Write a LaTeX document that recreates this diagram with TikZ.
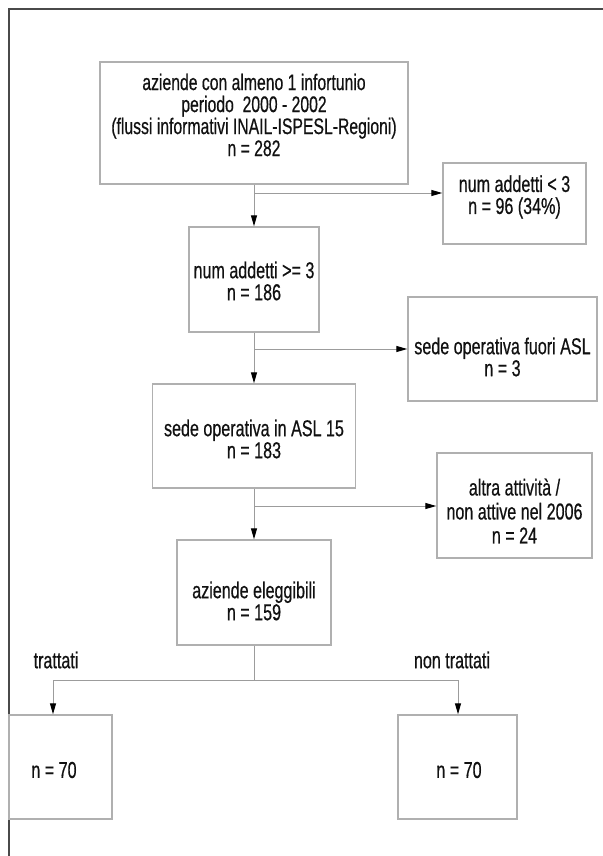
\documentclass[tikz,border=0pt]{standalone}
\usepackage{fontspec}
\setmainfont[FakeStretch=0.70,FakeBold=0.5]{Liberation Sans}
\usetikzlibrary{arrows.meta,calc}
\definecolor{framecol}{HTML}{4A4A4A}
\definecolor{boxcol}{HTML}{B0B0B0}
\definecolor{conncol}{HTML}{9C9C9C}
\definecolor{textcol}{HTML}{111111}
\begin{document}
\begin{tikzpicture}[x=1pt,y=-1pt,
  boxshape/.style={draw=boxcol,line width=1.4pt,fill=white,inner sep=0pt},
  txt/.style={align=center,inner sep=0pt,text=textcol,font=\fontsize{23}{22}\selectfont},
  tight/.style={font=\fontsize{22.5}{22}\selectfont},
  loose/.style={font=\fontsize{23}{24}\selectfont},
  conn/.style={draw=conncol,line width=1pt},
  arr/.style={-{Triangle[length=11pt,width=6pt,color=black]}},
  frameline/.style={draw=framecol,line width=2pt}]
\useasboundingbox (0,0) rectangle (602,856);
\fill[white] (0,0) rectangle (602,856);
\draw[frameline] (9,860) -- (9,9) -- (606,9);
% boxes
\node[boxshape,minimum width=308pt,minimum height=122pt] (b1) at (254,123) {};
\node[boxshape,minimum width=143pt,minimum height=81pt] (b2) at (514.5,203.5) {};
\node[boxshape,minimum width=130pt,minimum height=105pt] (b3) at (254,279.5) {};
\node[boxshape,minimum width=189pt,minimum height=104pt] (b4) at (502.5,349) {};
\node[boxshape,minimum width=203pt,minimum height=104pt] (b5) at (254,436) {};
\node[boxshape,minimum width=155pt,minimum height=105pt] (b6) at (514.5,505.5) {};
\node[boxshape,minimum width=154pt,minimum height=105pt] (b7) at (254,592.5) {};
\node[boxshape,minimum width=103pt,minimum height=104pt] (b8) at (60.5,767) {};
\node[boxshape,minimum width=119pt,minimum height=104pt] (b9) at (457.5,767) {};
% texts
\node[txt,tight] (t1) at (254,115) {aziende con almeno 1 infortunio\\periodo\ \ 2000 - 2002\\(flussi informativi INAIL-ISPESL-Regioni)\\n = 282};
\node[txt] (t2) at (514.5,197) {num addetti < 3\\n = 96 (34\%)};
\node[txt] (t3) at (254,281) {num addetti >= 3\\n = 186};
\node[txt] (t4) at (502.5,357) {sede operativa fuori ASL\\n = 3};
\node[txt] (t5) at (254,439) {sede operativa in ASL 15\\n = 183};
\node[txt,loose] (t6) at (514.5,511) {altra attività /\\non attive nel 2006\\n = 24};
\node[txt] (t7) at (254,601) {aziende eleggibili\\n = 159};
\node[txt] (t8) at (54,770) {n = 70};
\node[txt] (t9) at (459,770) {n = 70};
\node[txt] (l1) at (56,660) {trattati};
\node[txt] (l2) at (452,660) {non trattati};
% junctions
\coordinate (j1) at (254,193);
\coordinate (j2) at (254,349);
\coordinate (j3) at (254,506);
\coordinate (j4) at (254,680);
\coordinate (jl) at (53,680);
\coordinate (jr) at (458,680);
% connectors
\draw[conn,arr] (b1.south) -- (b3.north);
\draw[conn,arr] (j1) -- (j1 -| b2.west);
\draw[conn,arr] (b3.south) -- (b5.north);
\draw[conn,arr] (j2) -- (j2 -| b4.west);
\draw[conn,arr] (b5.south) -- (b7.north);
\draw[conn,arr] (j3) -- (j3 -| b6.west);
\draw[conn] (b7.south) -- (j4);
\draw[conn] (jl) -- (jr);
\draw[conn,arr] (jl) -- (jl |- b8.north);
\draw[conn,arr] (jr) -- (jr |- b9.north);
\end{tikzpicture}
\end{document}
